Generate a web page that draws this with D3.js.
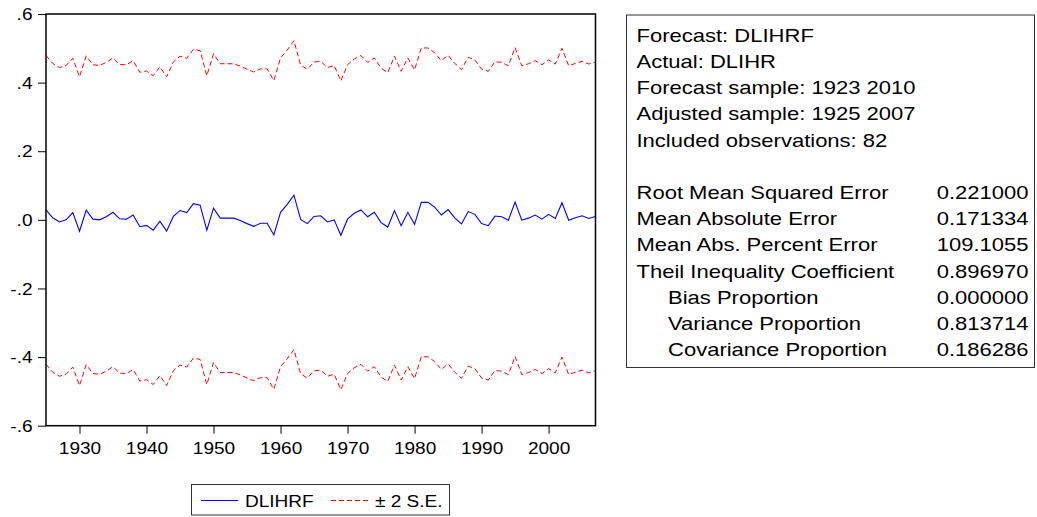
<!DOCTYPE html>
<html>
<head>
  <title>DLIHRF forecast</title>
  <meta charset="utf8">
  <style type="text/css">
    body { margin: 0; background: #fff; }
    svg { display: block; font-family: "Liberation Sans", Arial, sans-serif; }
    .frame { fill: none; stroke: #000; stroke-width: 1.5; }
    .axis path { display: none; }
    .axis line { stroke: #000; stroke-width: 1; }
    .axis text { fill: #000; font-size: 16px; }
    .forecast { fill: none; stroke: #0000ff; stroke-width: 1.1; }
    .band { fill: none; stroke: #ff0000; stroke-width: 1; stroke-dasharray: 5,3; }
    .box { fill: #fff; stroke: #333; stroke-width: 1; }
    .stats text { font-size: 18.5px; fill: #000; }
    .legend text { font-size: 16px; fill: #000; }
  </style>
</head>
<body>

<script src="https://cdn.jsdelivr.net/npm/d3@7"></script>

<script type="text/javascript">

// forecast DLIHRF, one value per year from 1925 to 2007
var firstYear = 1925
var forecast = [
  0.029, 0.006, -0.006, 0.000, 0.021, -0.033, 0.028, 0.002, 0.000, 0.009,
  0.022, 0.003, 0.002, 0.014, -0.020, -0.016, -0.030, -0.004, -0.033, 0.010,
  0.027, 0.021, 0.047, 0.043, -0.030, 0.034, 0.005, 0.005, 0.005, -0.002,
  -0.011, -0.019, -0.010, -0.010, -0.044, 0.022, 0.045, 0.072, 0.001, -0.011,
  0.010, 0.012, -0.006, 0.000, -0.045, 0.002, 0.019, 0.029, 0.009, 0.022,
  -0.008, -0.021, 0.027, -0.017, 0.022, -0.013, 0.051, 0.051, 0.037, 0.014,
  0.030, 0.006, -0.012, 0.024, 0.016, -0.011, -0.017, 0.011, 0.009, -0.001,
  0.052, -0.001, 0.005, 0.014, 0.002, 0.016, 0.004, 0.050, -0.001, 0.006,
  0.012, 0.004, 0.010
]
// half width of the +/- 2 S.E. band
var twoSE = 0.45

var yTicks = [-0.6, -0.4, -0.2, 0.0, 0.2, 0.4, 0.6]
var xTicks = [1930, 1940, 1950, 1960, 1970, 1980, 1990, 2000]

var legendLabels = ['DLIHRF', '\u00b1 2 S.E.']

var statsHeader = [
  'Forecast: DLIHRF',
  'Actual: DLIHR',
  'Forecast sample: 1923 2010',
  'Adjusted sample: 1925 2007',
  'Included observations: 82'
]
var statsNames = [
  'Root Mean Squared Error',
  'Mean Absolute Error',
  'Mean Abs. Percent Error',
  'Theil Inequality Coefficient',
  'Bias Proportion',
  'Variance Proportion',
  'Covariance Proportion'
]
var statsValues = ['0.221000', '0.171334', '109.1055', '0.896970', '0.000000', '0.813714', '0.186286']
var statsIndent = [false, false, false, false, true, true, true]

var width = 1037, height = 517
var stretch = 1.19   // text in the picture is a bit wider than plain Arial

var plot = { left: 46, right: 595.5, top: 14, bottom: 425.7 }

var years = forecast.map(function(d, i) { return firstYear + i })

var x = d3.scaleLinear()
    .domain([firstYear, years[years.length - 1]])
    .range([plot.left, plot.right])

var y = d3.scaleLinear()
    .domain([-0.6, 0.6])
    .range([plot.bottom, plot.top])

var svg = d3.select('body').append('svg')
    .attr('width', width)
    .attr('height', height)

function fmt(v) {
  var s = d3.format('.1f')(Math.abs(v)).replace(/^0/, '')
  return (v < -1e-9 ? '-' : '') + s
}

// axes
var yAxis = svg.append('g')
    .attr('class', 'axis')
    .attr('transform', 'translate(' + plot.left + ',0)')
    .call(d3.axisLeft(y).tickValues(yTicks).tickFormat(fmt).tickSize(8))

yAxis.selectAll('text')
    .attr('x', 0)
    .attr('dy', '0.35em')
    .attr('transform', 'translate(-13.5,0) scale(' + stretch + ',1)')

var xAxis = svg.append('g')
    .attr('class', 'axis')
    .attr('transform', 'translate(0,' + plot.bottom + ')')
    .call(d3.axisBottom(x).tickValues(xTicks).tickFormat(d3.format('d')).tickSize(8))

xAxis.selectAll('text')
    .attr('y', 0)
    .attr('dy', 0)
    .attr('transform', 'translate(0,28.5) scale(' + stretch + ',1)')

// series
var line = d3.line()
    .x(function(d, i) { return x(years[i]) })

svg.append('path')
    .attr('class', 'band')
    .attr('d', line.y(function(d) { return y(d + twoSE) })(forecast))

svg.append('path')
    .attr('class', 'band')
    .attr('d', line.y(function(d) { return y(d - twoSE) })(forecast))

svg.append('path')
    .attr('class', 'forecast')
    .attr('d', line.y(function(d) { return y(d) })(forecast))

svg.append('rect')
    .attr('class', 'frame')
    .attr('x', plot.left)
    .attr('y', plot.top)
    .attr('width', plot.right - plot.left)
    .attr('height', plot.bottom - plot.top)

// legend
var legend = svg.append('g').attr('class', 'legend')

legend.append('rect')
    .attr('class', 'box')
    .attr('x', 191.5)
    .attr('y', 484.5)
    .attr('width', 258)
    .attr('height', 30.5)

var legendItems = [
  { label: legendLabels[0], cls: 'forecast', x0: 201, x1: 238, tx: 245 },
  { label: legendLabels[1], cls: 'band', x0: 331, x1: 368, tx: 375 }
]

legendItems.forEach(function(d) {
  legend.append('line')
      .attr('class', d.cls)
      .attr('x1', d.x0)
      .attr('x2', d.x1)
      .attr('y1', 500.5)
      .attr('y2', 500.5)
  legend.append('text')
      .attr('transform', 'translate(' + d.tx + ',506.5) scale(' + stretch + ',1)')
      .text(d.label)
})

// statistics box
var stats = svg.append('g').attr('class', 'stats')

stats.append('rect')
    .attr('class', 'box')
    .attr('x', 626.5)
    .attr('y', 15)
    .attr('width', 408)
    .attr('height', 352.5)

var lineH = 26.2, base = 41.7

statsHeader.forEach(function(t, i) {
  stats.append('text')
      .attr('transform', 'translate(636.5,' + (base + i * lineH) + ') scale(' + stretch + ',1)')
      .text(t)
})

statsNames.forEach(function(t, i) {
  var by = base + (i + 6) * lineH
  stats.append('text')
      .attr('transform', 'translate(' + (statsIndent[i] ? 668 : 636.5) + ',' + by + ') scale(' + stretch + ',1)')
      .text(t)
  stats.append('text')
      .attr('text-anchor', 'end')
      .attr('transform', 'translate(1028.5,' + by + ') scale(' + stretch + ',1)')
      .text(statsValues[i])
})

</script>

</body>
</html>
